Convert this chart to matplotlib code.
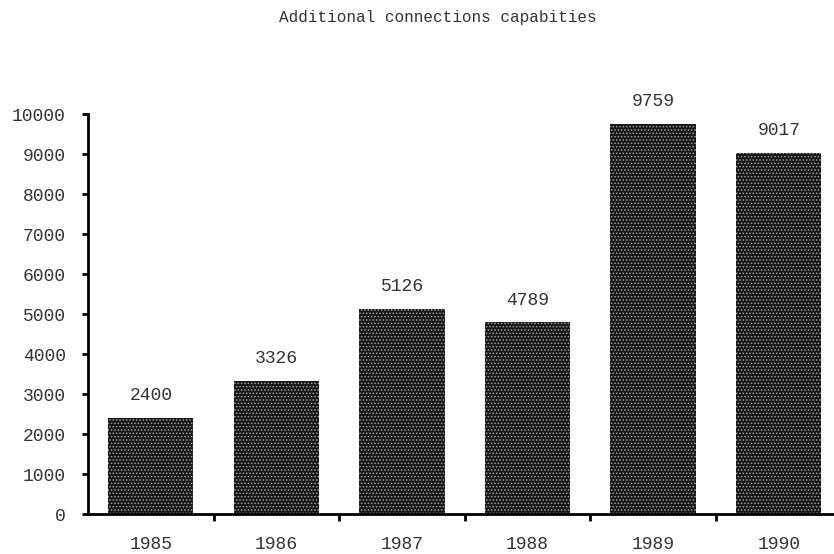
import matplotlib
matplotlib.use("Agg")
import matplotlib.pyplot as plt
import numpy as np

years = ["1985", "1986", "1987", "1988", "1989", "1990"]
connections = [2400, 3326, 5126, 4789, 9759, 9017]
yticks = [0, 1000, 2000, 3000, 4000, 5000, 6000, 7000, 8000, 9000, 10000]

plt.rcParams['font.family'] = ['Liberation Mono', 'DejaVu Sans Mono']
plt.rcParams['hatch.linewidth'] = 0.7

fig = plt.figure(figsize=(8.34, 5.54), dpi=100)
ax = fig.add_axes([0.1055, 0.0722, 0.9036, 0.722])

x = np.arange(len(years))
bars = ax.bar(x, connections, width=0.68, facecolor='#161616',
              edgecolor='#a0a0a0', linewidth=0, hatch='.....')

for xi, v in zip(x, connections):
    ax.annotate(str(v), (xi, v), xytext=(0, 10), textcoords='offset points',
                ha='center', va='bottom', fontsize=13, color='#333333')

ax.set_xlim(-0.5, 5.5)
ax.set_ylim(0, 10000)
ax.set_yticks(yticks)
ax.set_yticklabels([str(t) for t in yticks], fontsize=13, color='#333333')
# boundary ticks between categories, year labels centred under bars
ax.set_xticks(np.arange(0.5, 5, 1))
ax.set_xticklabels([])
ax.set_xticks(x, minor=True)
ax.set_xticklabels(years, minor=True, fontsize=13, color='#333333')
ax.tick_params(axis='x', which='minor', length=0, pad=16)
ax.tick_params(axis='x', which='major', length=5, width=2, direction='out')
ax.tick_params(axis='y', length=4, width=2, direction='out', pad=12)

for side in ['top', 'right']:
    ax.spines[side].set_visible(False)
for side in ['left', 'bottom']:
    ax.spines[side].set_linewidth(2)

fig.text(0.525, 0.968, "Additional connections capabities", ha='center',
         va='center', fontsize=11.5, color='#333333')

fig.savefig("out.png", dpi=100)
